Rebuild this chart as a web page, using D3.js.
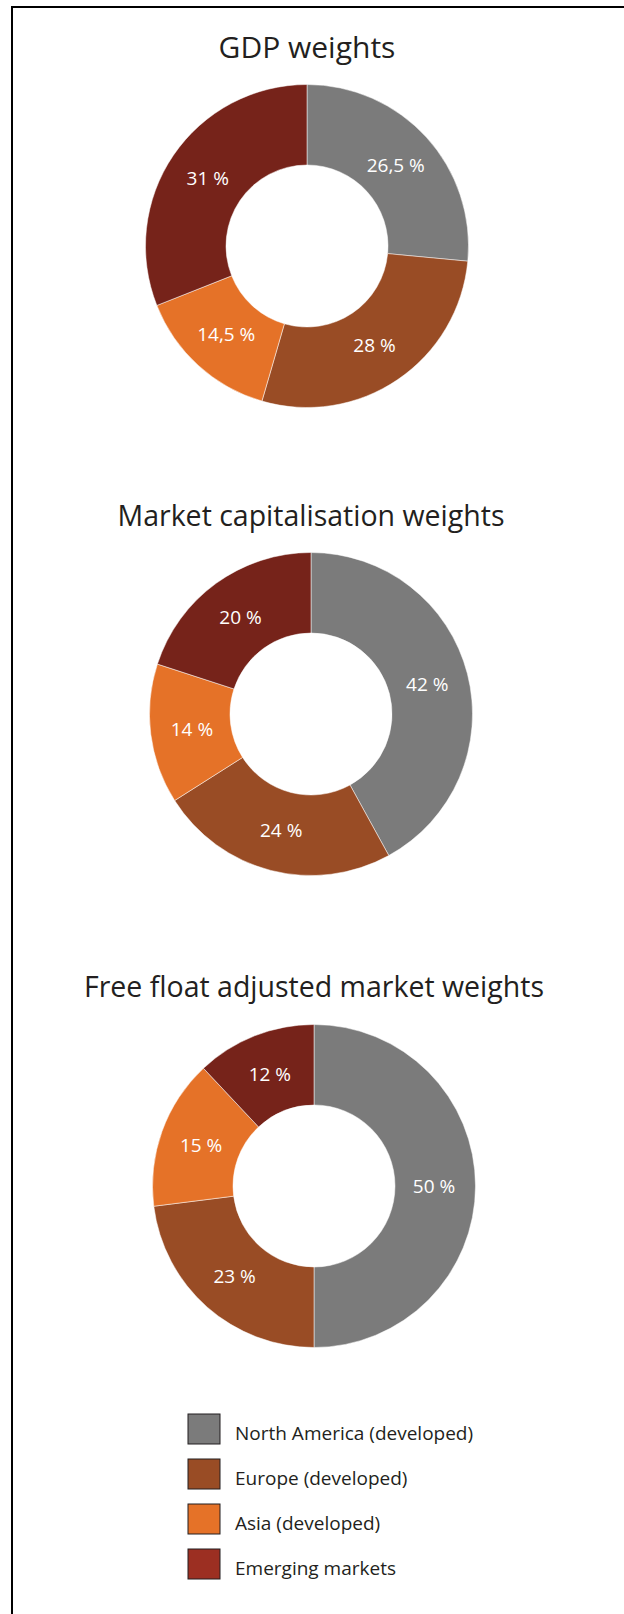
<!DOCTYPE html>
<html>
<head>
<meta charset="utf-8">
<script src="https://cdn.jsdelivr.net/npm/d3@7"></script>
<style>
  html, body { margin: 0; padding: 0; background: #fff; }
  svg { display: block; }
</style>
</head>
<body>
<div id="chart"></div>
<script>
// categories and colours
const regions = ["North America (developed)", "Europe (developed)", "Asia (developed)", "Emerging markets"];
const sliceColors = ["#7b7b7b", "#994c25", "#e57228", "#76231a"];
const legendColors = ["#7b7b7b", "#994c25", "#e57228", "#9c2f22"];

// chart titles
const titles = ["GDP weights", "Market capitalisation weights", "Free float adjusted market weights"];

// weights per chart, same order as regions
const gdpWeights = [26.5, 28, 14.5, 31];
const marketCapWeights = [42, 24, 14, 20];
const freeFloatWeights = [50, 23, 15, 12];

const width = 624, height = 1614;
const font = "'Open Sans', 'Noto Sans', sans-serif";

const svg = d3.select("#chart").append("svg")
    .attr("width", width)
    .attr("height", height);

// frame (top and left edges only)
svg.append("path")
    .attr("d", `M12,${height} L12,7 L${width},7`)
    .attr("fill", "none")
    .attr("stroke", "#000")
    .attr("stroke-width", 2);

const charts = [
    {title: titles[0], values: gdpWeights, cx: 307, cy: 246, ty: 58, fs: 30},
    {title: titles[1], values: marketCapWeights, cx: 311, cy: 714, ty: 526, fs: 28.5},
    {title: titles[2], values: freeFloatWeights, cx: 314, cy: 1186, ty: 997, fs: 28.5}
];

const pie = d3.pie().sort(null).value(d => d);
const arc = d3.arc().innerRadius(81).outerRadius(161.5);
const labelArc = d3.arc().innerRadius(120).outerRadius(120);
const color = d3.scaleOrdinal().domain(d3.range(regions.length)).range(sliceColors);

const fmt = v => String(v).replace(".", ",") + " %";

charts.forEach(c => {
    svg.append("text")
        .attr("x", c.cx)
        .attr("y", c.ty)
        .attr("text-anchor", "middle")
        .attr("font-family", font)
        .attr("font-size", c.fs)
        .attr("fill", "#231f20")
        .text(c.title);

    const g = svg.append("g").attr("transform", `translate(${c.cx},${c.cy})`);
    const arcs = pie(c.values);

    g.selectAll("path")
        .data(arcs)
        .enter().append("path")
        .attr("d", arc)
        .attr("fill", (d, i) => color(i))
        .attr("stroke", "#fff")
        .attr("stroke-width", 0.5);

    g.selectAll("text")
        .data(arcs)
        .enter().append("text")
        .attr("transform", d => `translate(${labelArc.centroid(d)})`)
        .attr("dy", "0.35em")
        .attr("text-anchor", "middle")
        .attr("font-family", font)
        .attr("font-size", 19)
        .attr("fill", "#fff")
        .text(d => fmt(d.data));
});

// legend
const legend = svg.append("g").attr("transform", "translate(188,1414)");
const row = legend.selectAll("g")
    .data(regions)
    .enter().append("g")
    .attr("transform", (d, i) => `translate(0,${i * 45})`);

row.append("rect")
    .attr("width", 32)
    .attr("height", 30)
    .attr("fill", (d, i) => legendColors[i])
    .attr("stroke", "#231f20")
    .attr("stroke-width", 1);

row.append("text")
    .attr("x", 47)
    .attr("y", 26)
    .attr("font-family", font)
    .attr("font-size", 19)
    .attr("fill", "#231f20")
    .text(d => d);
</script>
</body>
</html>
